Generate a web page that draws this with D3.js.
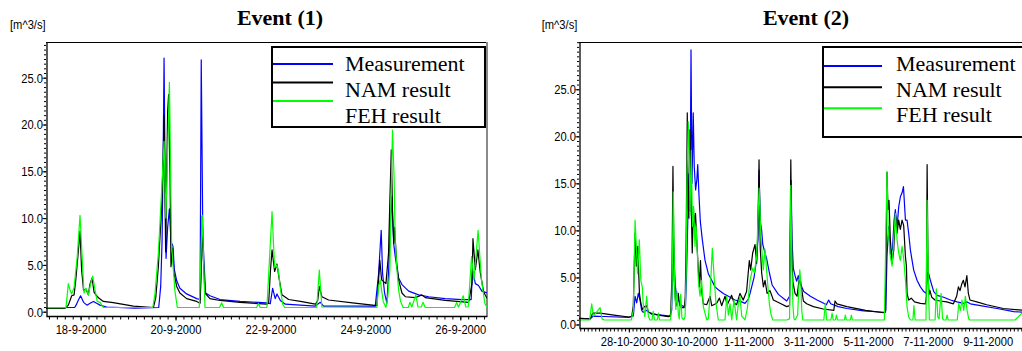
<!DOCTYPE html>
<html><head><meta charset="utf-8">
<script src="https://cdn.jsdelivr.net/npm/d3@7/dist/d3.min.js"></script>
<style>body{margin:0;background:#fff;overflow:hidden}svg{display:block}</style>
</head><body>
<svg id="c" width="1022" height="351"></svg>
<script>
// ---------- DATA (time = hours from series start, value = m^3/s) ----------
const seriesNames = ["Measurement", "NAM result", "FEH result"];
const titles = ["Event (1)", "Event (2)"];
const unitLabel = "[m^3/s]";

const ev1Start = "2000-09-17T06:30:00Z";
const ev1End = "2000-09-26T13:30:00Z";
const ev1XLabels = ["18-9-2000", "20-9-2000", "22-9-2000", "24-9-2000", "26-9-2000"];
const ev1YTicks = [0, 5, 10, 15, 20, 25];

const ev2Start = "2000-10-26T08:00:00Z";
const ev2End = "2000-11-10T05:00:00Z";
const ev2XLabels = ["28-10-2000", "30-10-2000", "1-11-2000", "3-11-2000", "5-11-2000", "7-11-2000", "9-11-2000"];
const ev2YTicks = [0, 5, 10, 15, 20, 25];

const ev1Measurement = [[0,0.45],[14.5,0.45],[15.2,0.7],[16.4,1.25],[17.5,1.7],[19.0,1.0],[20.7,0.7],[22.3,0.9],[24.0,1.1],[25.6,0.9],[27.3,0.7],[30.7,0.5],[45,0.38],[57.0,0.45],[58.0,2.7],[58.7,7.6],[59.3,18],[59.7,27.1],[60.2,15],[60.7,5.7],[61.5,9],[62.4,11],[63.2,7.5],[64.2,7.0],[64.9,4.5],[66.1,3.3],[67.7,2.5],[71.1,1.9],[76.2,1.4],[77.9,1.3],[78.5,26.9],[79.3,8],[80.7,2.0],[82.9,1.7],[88.0,1.3],[98.1,1.1],[111.6,0.95],[113.4,0.85],[114.6,2.5],[115.9,1.4],[116.8,1.9],[118.5,1.2],[121.0,0.8],[136.2,0.6],[138.7,1.0],[140.4,0.6],[166.5,0.6],[168.2,4.1],[169.5,8.7],[170.2,4.1],[171.2,2.0],[172.4,0.9],[173.2,4.1],[174.1,9.0],[174.9,12.3],[175.8,7.3],[176.6,5.9],[177.5,4.6],[178.3,3.6],[180.0,2.9],[183.4,2.2],[188.4,1.8],[193.5,1.6],[201.9,1.4],[210.3,1.3],[215.0,1.3],[215.7,4.45],[217.1,3.0],[218.7,2.8],[220.4,2.2],[223,2.0]];
const ev1Nam = [[0,0.36],[9.6,0.36],[11.3,0.7],[13.0,1.7],[14.2,1.8],[15.2,3.7],[16.4,6.6],[17.2,8.6],[18.0,4.5],[19.0,2.3],[20.2,2.4],[21.4,1.8],[22.2,2.9],[23.3,3.6],[24.3,2.1],[25.6,1.7],[27.0,1.4],[29.0,1.1],[34.0,0.96],[44.2,0.6],[54.3,0.45],[55.5,1.5],[56.8,4.8],[58.5,11.2],[59.3,16.9],[59.7,21.0],[60.5,6.4],[61.5,21.3],[62.0,23.2],[62.7,14.8],[63.2,4.8],[64.0,6.8],[64.7,4.1],[66.1,2.7],[67.7,2.0],[71.1,1.4],[76.2,1.1],[77.9,0.9],[78.5,4.1],[79.0,10.2],[79.5,5.9],[80.4,2.0],[82.9,1.4],[88.0,1.2],[98.1,1.0],[111.6,0.8],[112.6,0.9],[113.4,4.1],[114.3,6.6],[115.6,4.3],[116.8,5.1],[118.0,3.4],[119.3,1.8],[122.7,1.3],[129.4,1.07],[136.2,0.8],[137.4,1.2],[138.2,2.7],[139.5,1.6],[142.9,1.25],[155,0.95],[167.3,0.65],[168.2,3.5],[168.8,5.5],[169.7,3.4],[171.9,3.0],[173.2,6.2],[173.9,12],[174.6,17.3],[175.3,10],[175.9,7.3],[176.3,9],[177.2,5.5],[178.3,3.4],[180.0,2.0],[181.7,1.6],[186.7,1.5],[190.1,1.8],[191.8,1.5],[201.9,1.2],[213.7,1.0],[215.4,3.0],[215.9,7.8],[217.1,4.5],[218.4,6.6],[219.6,4.2],[221.3,2.1],[223,1.45]];
const ev1Feh = [[0,0.43],[10.1,0.43],[11.3,3.0],[12.3,2.2],[13.0,1.9],[14.2,2.6],[15.8,5.9],[17.2,10.3],[18.2,6.2],[19.2,2.0],[20.2,2.5],[21.4,1.8],[22.6,3.0],[23.6,3.8],[24.8,2.3],[25.9,1.1],[27.3,1.0],[29.0,0.45],[54.0,0.45],[55.1,1.9],[56.8,6.2],[58.5,13],[59.7,18.2],[60.6,10],[61.5,17],[62.4,24.5],[63.5,7.2],[65.2,2.2],[66.4,0.45],[77.5,0.45],[79.0,10.3],[80.4,0.45],[87.8,0.45],[88.8,0.95],[89.8,0.45],[106.5,0.45],[107.4,0.9],[108.3,0.45],[111.7,0.45],[112.6,4.0],[114.3,10.7],[115.6,4.7],[116.8,5.0],[117.6,4.2],[118.5,2.5],[119.7,0.8],[120.7,0.45],[136.9,0.45],[138.2,4.45],[139.5,0.5],[167.3,0.45],[168.2,2.7],[169.0,3.4],[170.5,1.1],[171.9,0.46],[172.8,1.5],[173.9,4.5],[174.4,11.0],[175.2,19.4],[176.0,14.5],[176.6,7.5],[177.5,4.4],[178.3,2.3],[179.3,1.1],[180.6,0.45],[183.2,0.45],[184.0,1.0],[185.0,0.5],[187.0,1.8],[188.1,0.5],[189.8,0.5],[190.6,1.0],[191.8,0.45],[206.6,0.45],[207.6,0.97],[208.6,0.5],[211.0,1.7],[212.3,0.5],[213.5,0.53],[215.2,5.9],[216.4,3.4],[218.5,8.7],[220.2,3.4],[221.9,0.9],[223,0.46]];

const ev2Measurement = [[0,0.65],[9,0.6],[11.5,0.9],[20,0.85],[40,0.75],[43.6,0.9],[45.0,3.0],[46.3,2.3],[47.6,3.3],[49.0,2.6],[50.3,1.5],[51.6,1.3],[54.3,1.5],[58.3,1.1],[66.4,1.0],[73.0,0.9],[74.4,1.5],[75.7,9.3],[76.6,6.0],[77.4,4.0],[78.4,3.0],[80.5,2.4],[82.4,2.0],[84.5,1.9],[85.5,2.0],[86.2,4.7],[87.2,10.4],[88.2,16],[89.1,12],[89.9,29.2],[90.7,15],[91.7,22.5],[92.5,16.8],[93.6,14.3],[94.6,15.4],[95.3,17.0],[96.3,13.7],[97.4,10.9],[99.0,9.0],[101.1,6.85],[103.8,5.4],[106.5,4.7],[109.2,4.0],[111.8,3.7],[115.8,3.3],[119.9,3.0],[125.2,2.6],[130.6,2.4],[133.2,2.25],[135.9,2.7],[137.3,3.3],[138.6,4.0],[140.5,5.0],[142.6,7.0],[143.6,9],[144.5,16.4],[145.5,11],[146.6,10.0],[147.5,8.5],[149.3,7.6],[150.6,7.0],[152.8,5.5],[155,4.2],[160,3.2],[166.7,2.5],[169.0,3.0],[170.2,15.3],[171.0,9],[172.0,6.0],[173.4,5.2],[174.7,4.6],[176.0,5.2],[177.4,4.4],[180.4,3.5],[185.7,3.0],[191.1,2.6],[196.4,2.25],[198.5,2.1],[200.4,2.6],[202,2.2],[208,1.9],[215,1.7],[228.5,1.45],[245.1,1.3],[246.2,1.5],[247.2,7.2],[248.5,10.4],[250.0,7.5],[251.6,8.0],[252.9,11.1],[253.9,12.2],[255.3,10.4],[256.6,12.5],[258.0,13.6],[259.3,14.0],[260.4,14.65],[262.0,11.1],[263.3,11.1],[264.6,9.7],[266.0,7.9],[267.3,6.85],[268.6,5.8],[271.3,4.7],[274.0,4.0],[276.7,3.5],[278.8,3.3],[279.6,5.5],[280.7,5.4],[282.0,4.7],[284.7,3.5],[287.4,3.1],[292.7,2.9],[298.1,2.6],[303.4,2.4],[308.8,2.25],[311.5,2.4],[314.1,2.2],[322.2,2.0],[335.5,1.7],[348.9,1.37],[357,1.3]];
const ev2Nam = [[0,0.65],[9,0.6],[11,1.2],[17,1.2],[28,1.0],[40,0.8],[42.3,0.85],[43.6,2.0],[44.3,6],[45.0,9.7],[46.0,6.2],[47.2,8.3],[48.5,3.3],[49.6,2.3],[50.8,1.6],[52.5,1.9],[54.3,2.0],[55.7,1.3],[58.3,1.2],[63.7,1.0],[71.7,0.83],[73.5,0.9],[74.6,5],[75.4,16.8],[76.4,4.7],[77.4,2.5],[78.4,2.0],[79.7,3.3],[80.8,2.0],[82.4,1.8],[84.5,1.8],[85.3,3],[86.0,9],[86.9,22.5],[87.6,12.5],[88.2,11.3],[89.1,20.7],[90.3,11.1],[90.9,7.6],[91.8,12.5],[92.5,10.4],[93.5,11.8],[94.5,9.0],[95.6,6.2],[96.6,4.0],[97.5,6.8],[98.5,3.5],[99.8,2.2],[102.5,2.1],[105.2,3.0],[106.5,2.0],[110.5,2.25],[112.7,2.8],[114.5,2.0],[117.2,3.0],[119.0,2.1],[122.5,3.1],[124.4,2.3],[126.5,2.1],[129.2,3.3],[131.8,2.6],[134.5,3.5],[136.7,6.8],[137.8,5.8],[139.4,7.6],[141.3,8.5],[142.6,6.5],[143.6,10],[144.5,17.5],[145.5,8],[146.6,5.5],[148.0,4.0],[149.3,4.7],[151.0,3.3],[153.3,3.6],[156.0,2.6],[161.3,2.25],[166.7,1.9],[169.0,2.0],[170.0,17.5],[170.9,7],[171.7,4.5],[173.4,3.3],[175.0,3.0],[176.5,4.6],[177.4,5.0],[178.7,3.8],[180.1,2.5],[182.7,2.2],[188.1,1.9],[196.1,1.65],[204.5,1.5],[205.5,2.5],[207,2.2],[215,1.9],[230,1.5],[244.3,1.25],[246.0,1.3],[247.2,16.2],[248.0,12.2],[248.8,13.2],[249.9,9.0],[251.3,6.5],[252.6,7.9],[253.9,11.8],[255.3,9.7],[256.6,11.1],[257.9,10.1],[259.3,11.1],[260.6,10.5],[262.0,7.2],[262.8,6.2],[263.3,3.3],[264.6,2.6],[266.7,2.8],[269.3,2.4],[274.0,2.25],[278.0,2.2],[278.8,3],[279.4,17.0],[280.2,5],[281.0,3.2],[281.7,3.6],[283.1,2.9],[285.7,2.6],[289.8,2.5],[295.1,2.4],[300.5,2.2],[303.1,3.0],[304.5,4.0],[305.8,3.6],[307.2,4.3],[308.5,4.7],[309.8,4.0],[311.3,5.2],[312.5,3.3],[313.8,2.6],[319.2,2.4],[327.2,2.1],[340.6,1.7],[357,1.5]];
const ev2Feh = [[0,0.48],[8.5,0.48],[10.2,2.2],[11.5,0.9],[13.5,1.2],[16.9,1.8],[18.5,0.6],[20.2,0.48],[42.0,0.48],[43.6,1.5],[45.0,11.1],[46.3,7.6],[47.0,5.4],[48.4,9.0],[49.6,4.7],[50.8,4.0],[51.5,2.2],[52.8,0.85],[54.3,3.0],[55.7,0.85],[57.0,0.48],[58.6,0.48],[59.6,1.4],[60.6,0.48],[62.8,0.48],[63.7,1.2],[64.6,0.48],[73.5,0.48],[74.6,3],[75.7,14.1],[76.8,3.8],[77.7,1.6],[78.7,3.5],[79.7,1.2],[80.5,0.6],[81.6,3.2],[82.6,0.7],[84.0,0.48],[85.1,0.8],[86.0,5.4],[86.7,16],[87.7,21.55],[88.5,17.8],[89.1,11.6],[90.1,18.5],[91.1,10.4],[92.0,12.5],[93.1,8.3],[94.0,10.4],[95.0,7.6],[95.8,4.7],[97.1,3.0],[98.4,4.7],[99.8,1.9],[101.1,1.2],[102.5,0.48],[103.8,0.6],[105.2,3.2],[107.0,8.1],[108.6,4.7],[110,2.2],[111.8,0.48],[117.2,0.48],[118.6,3.0],[119.9,1.0],[121.2,2.2],[122.6,0.48],[124.4,2.6],[126.5,0.48],[127.9,2.2],[129.2,3.0],[130.6,0.9],[133.2,0.48],[135.1,1.7],[137.3,4.7],[139.4,6.0],[140.7,5.5],[142.6,7.2],[143.6,11],[144.6,14.5],[146,9.3],[147.9,5.8],[149.3,8.0],[151.2,4.7],[152.8,2.2],[153.9,1.2],[155.5,0.48],[166.7,0.48],[169.0,0.6],[170.0,14.8],[170.9,6],[171.7,2],[172.5,0.6],[173.5,0.48],[175.5,1.0],[176.3,3.5],[177.2,5.8],[178.0,4.5],[178.8,1.5],[179.6,0.48],[196.5,0.48],[197.7,2.25],[198.8,0.48],[202.2,0.48],[203.1,1.2],[204.0,0.48],[205.8,0.48],[206.6,1.0],[207.5,0.48],[213.0,0.48],[213.8,1.0],[214.6,0.48],[217.8,0.48],[218.6,1.0],[219.4,0.48],[245.1,0.48],[247.2,16.2],[248.2,10],[249.9,7.2],[251.3,6.2],[252.6,9],[253.9,11.8],[255.3,9],[256.6,7.6],[257.9,6.8],[259.3,8.3],[260.6,7.0],[262.0,4.7],[263.3,1.9],[264.6,0.8],[266.0,0.48],[268.0,0.48],[268.8,2.0],[269.8,0.48],[278.5,0.48],[279.4,13.2],[280.3,5],[281.2,0.48],[285.8,0.48],[286.8,3.8],[288.0,0.8],[289.0,0.6],[290.6,3.3],[291.8,0.6],[292.7,0.48],[294.6,0.48],[295.4,1.0],[296.3,0.48],[303.6,0.48],[304.8,2.25],[306.1,1.5],[307.4,2.6],[308.8,1.5],[310.1,3.0],[311.5,1.5],[312.8,0.6],[313.6,0.48],[350,0.48],[357,1.4]];

// ---------- DRAWING ----------
const svg = d3.select("#c");
const colors = ["#0000ff", "#000000", "#00ff00"];
const parseLabel = d3.utcParse("%d-%m-%Y");
const fmtLabel = d3.utcFormat("%-d-%-m-%Y");
const SX = 0.86; // horizontal compression of the narrow axis font

function drawChart(o, idx) {
  const start = new Date(o.start), end = new Date(o.end);
  const x = d3.scaleUtc().domain([start, end]).range([o.left, o.right]);
  const y = d3.scaleLinear().domain([o.yMin, o.yMax]).range([o.bottom, o.top]);
  const g = svg.append("g");
  const clipId = "clip" + idx;
  svg.append("clipPath").attr("id", clipId).append("rect")
    .attr("x", o.left).attr("y", o.top).attr("width", o.right - o.left).attr("height", o.bottom - o.top);

  // frame
  g.append("line").attr("x1", o.left).attr("x2", o.right).attr("y1", o.top + 0.5).attr("y2", o.top + 0.5)
    .attr("stroke", "#000").attr("stroke-width", 1.2);
  if (o.rightBorder) g.append("line").attr("x1", o.right).attr("x2", o.right).attr("y1", o.top).attr("y2", o.bottom)
    .attr("stroke", "#8a8a8a").attr("stroke-width", 2);

  // series
  const line = d3.line().x(d => x(new Date(start.getTime() + d[0] * 3600e3))).y(d => y(d[1]));
  const lg = g.append("g").attr("clip-path", `url(#${clipId})`);
  o.series.forEach((s, i) => {
    lg.append("path").datum(s).attr("d", line).attr("fill", "none")
      .attr("stroke", colors[i]).attr("stroke-width", 1.2).attr("stroke-linejoin", "round");
  });

  // y axis minor ticks
  const minor = d3.range(0, o.yMax, 0.5);
  g.append("g").attr("transform", `translate(${o.left},0)`)
    .call(d3.axisLeft(y).tickValues(minor).tickSize(2).tickSizeOuter(0).tickFormat(""))
    .call(a => a.select(".domain").remove());
  const ya = g.append("g").attr("transform", `translate(${o.left + 0.5},0)`)
    .call(d3.axisLeft(y).tickValues(o.yTicks).tickSize(4).tickSizeOuter(0).tickFormat(d3.format(".1f")));
  ya.select(".domain").attr("stroke-width", 1.3);
  ya.selectAll("text").attr("x", -3.6 / SX).attr("dy", "0.34em").attr("transform", `scale(${SX},1)`)
    .attr("font-family", "Liberation Sans, Arial, sans-serif").attr("font-size", 13).attr("fill", "#000");

  // x axis
  const xa = g.append("g").attr("transform", `translate(0,${o.bottom})`)
    .call(d3.axisBottom(x).ticks(d3.utcHour.every(o.tickHours)).tickSize(3.5).tickSizeOuter(0).tickFormat(""));
  xa.select(".domain").attr("stroke-width", 1.3);
  const xl = g.append("g").attr("transform", `translate(0,${o.bottom})`)
    .call(d3.axisBottom(x).tickValues(o.labels.map(parseLabel)).tickSize(4.5).tickSizeOuter(0).tickFormat(fmtLabel));
  xl.select(".domain").remove();
  xl.selectAll("text").attr("y", o.labelY).attr("dy", "0.71em").attr("transform", `scale(${SX},1)`)
    .attr("font-family", "Liberation Sans, Arial, sans-serif").attr("font-size", 13).attr("fill", "#000");

  // unit label and title
  svg.append("text").attr("transform", `translate(${o.unitX},29) scale(${SX},1)`)
    .attr("font-family", "Liberation Sans, Arial, sans-serif").attr("font-size", 13).text(unitLabel);
  svg.append("text").attr("x", o.titleX).attr("y", 25).attr("text-anchor", "middle")
    .attr("font-family", "Liberation Serif, Times New Roman, serif").attr("font-weight", "bold")
    .attr("font-size", 22).text(o.title);

  // legend
  const L = o.legend;
  const leg = svg.append("g");
  leg.append("rect").attr("x", L.x).attr("y", L.y).attr("width", L.w).attr("height", L.h)
    .attr("fill", "#fff").attr("stroke", "#000").attr("stroke-width", 2);
  seriesNames.forEach((n, i) => {
    leg.append("line").attr("x1", L.x + 1).attr("x2", L.lineX2).attr("y1", L.lineY[i]).attr("y2", L.lineY[i])
      .attr("stroke", colors[i]).attr("stroke-width", 2);
    leg.append("text").attr("x", L.textX).attr("y", L.textY[i])
      .attr("font-family", "Liberation Serif, Times New Roman, serif").attr("font-size", 22).text(n);
  });
}

drawChart({
  start: ev1Start, end: ev1End, left: 46, right: 487, top: 42, bottom: 316,
  yMin: (311.7 - 316) / 9.36, yMax: (311.7 - 42) / 9.36, yTicks: ev1YTicks,
  tickHours: 4, labels: ev1XLabels, labelY: 9, rightBorder: true,
  series: [ev1Measurement, ev1Nam, ev1Feh], title: titles[0], titleX: 280, unitX: 10,
  legend: { x: 272, y: 47, w: 213, h: 80, lineX2: 333, lineY: [64, 82.5, 101], textX: 345, textY: [70.7, 96.7, 122.7] }
}, 1);

drawChart({
  start: ev2Start, end: ev2End, left: 579, right: 1023.8, top: 42, bottom: 328,
  yMin: (324.5 - 328) / 9.41, yMax: (324.5 - 42) / 9.41, yTicks: ev2YTicks,
  tickHours: 3, labels: ev2XLabels, labelY: 8.5, rightBorder: false,
  series: [ev2Measurement, ev2Nam, ev2Feh], title: titles[1], titleX: 806, unitX: 541.7,
  legend: { x: 823, y: 47, w: 210, h: 90, lineX2: 882, lineY: [66, 87.3, 108.3], textX: 896, textY: [70.7, 96.7, 122] }
}, 2);
</script>
</body></html>
